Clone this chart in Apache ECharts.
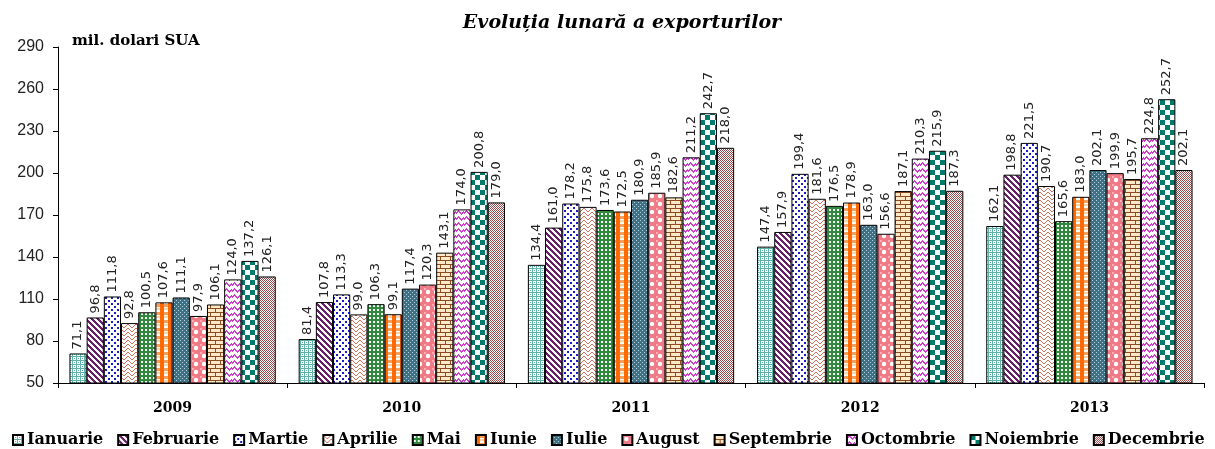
<!DOCTYPE html>
<html>
<head>
<meta charset="utf-8">
<script src="https://cdn.jsdelivr.net/npm/echarts@6/dist/echarts.min.js"></script>
<style>
html,body{margin:0;padding:0;background:#fff;}
#chart{width:1215px;height:449px;}
</style>
</head>
<body>
<div id="chart"></div>
<script>
const years = ['2009', '2010', '2011', '2012', '2013'];
const months = ['Ianuarie', 'Februarie', 'Martie', 'Aprilie', 'Mai', 'Iunie', 'Iulie', 'August', 'Septembrie', 'Octombrie', 'Noiembrie', 'Decembrie'];
const ianuarie   = [71.1, 81.4, 134.4, 147.4, 162.1];
const februarie  = [96.8, 107.8, 161.0, 157.9, 198.8];
const martie     = [111.8, 113.3, 178.2, 199.4, 221.5];
const aprilie    = [92.8, 99.0, 175.8, 181.6, 190.7];
const mai        = [100.5, 106.3, 173.6, 176.5, 165.6];
const iunie      = [107.6, 99.1, 172.5, 178.9, 183.0];
const iulie      = [111.1, 117.4, 180.9, 163.0, 202.1];
const august     = [97.9, 120.3, 185.9, 156.6, 199.9];
const septembrie = [106.1, 143.1, 182.6, 187.1, 195.7];
const octombrie  = [124.0, 174.0, 211.2, 210.3, 224.8];
const noiembrie  = [137.2, 200.8, 242.7, 215.9, 252.7];
const decembrie  = [126.1, 179.0, 218.0, 187.3, 202.1];
const seriesValues = [ianuarie, februarie, martie, aprilie, mai, iunie, iulie, august, septembrie, octombrie, noiembrie, decembrie];
const yTicks = {min: 50, max: 290, interval: 30};

function mk(w, h, draw) {
  const c = document.createElement('canvas');
  c.width = w; c.height = h;
  const g = c.getContext('2d');
  draw(g, w, h);
  return {image: c, repeat: 'repeat'};
}
const patterns = [
  // Ianuarie: light teal lattice
  mk(4, 4, (g) => { g.fillStyle = '#ffffff'; g.fillRect(0,0,4,4); g.fillStyle = '#5fb3a8'; g.fillRect(0,0,4,1); g.fillRect(0,0,1,4); g.fillRect(2,2,1,1); }),
  // Februarie: purple diagonal stripes
  mk(6, 6, (g) => { g.fillStyle = '#ffffff'; g.fillRect(0,0,6,6); g.fillStyle = '#6b1f6b';
    for (let i = 0; i < 6; i++) { g.fillRect(i, i, 1, 1); g.fillRect((i+1)%6, i, 1, 1); g.fillRect((i+2)%6, i, 1, 1); } }),
  // Martie: blue dots
  mk(6, 6, (g) => { g.fillStyle = '#ffffff'; g.fillRect(0,0,6,6); g.fillStyle = '#1a1ac8'; g.fillRect(0,0,2,2); g.fillRect(3,3,2,2); }),
  // Aprilie: salmon herringbone
  mk(8, 8, (g) => { g.fillStyle = '#ffffff'; g.fillRect(0,0,8,8); g.fillStyle = '#d2705c';
    for (let i = 0; i < 4; i++) { g.fillRect(i, i, 1, 1); g.fillRect(7-i, i, 1, 1); g.fillRect(i, i+4, 1, 1); g.fillRect(7-i, i+4, 1, 1); } }),
  // Mai: green checker
  mk(4, 4, (g) => { g.fillStyle = '#2f8a3c'; g.fillRect(0,0,4,4); g.fillStyle = '#ffffff'; g.fillRect(1,1,2,2); }),
  // Iunie: orange plaid
  mk(8, 8, (g) => { g.fillStyle = '#ffffff'; g.fillRect(0,0,8,8); g.fillStyle = '#f0a060'; g.fillRect(0,0,8,3); g.fillStyle = '#ff6a00'; g.fillRect(0,0,4,8); g.fillStyle = '#ffd2a8'; g.fillRect(4,4,4,2); }),
  // Iulie: steel blue with dots
  mk(4, 4, (g) => { g.fillStyle = '#3e7186'; g.fillRect(0,0,4,4); g.fillStyle = '#b8d0d8'; g.fillRect(0,0,1,1); g.fillRect(2,2,1,1); }),
  // August: pink circles
  mk(8, 8, (g) => { g.fillStyle = '#f07a86'; g.fillRect(0,0,8,8); g.fillStyle = '#ffffff'; g.beginPath(); g.arc(4, 4, 2.2, 0, Math.PI*2); g.fill(); g.fillStyle = '#f7b0b8'; g.fillRect(0,0,2,2); }),
  // Septembrie: brick
  mk(10, 8, (g) => { g.fillStyle = '#fde8c8'; g.fillRect(0,0,10,8); g.fillStyle = '#8a4a22';
    g.fillRect(0,0,10,1); g.fillRect(0,4,10,1); g.fillRect(0,0,1,4); g.fillRect(5,4,1,4); }),
  // Octombrie: magenta waves
  mk(8, 6, (g) => { g.fillStyle = '#ffffff'; g.fillRect(0,0,8,6); g.fillStyle = '#cc3fcc';
    const pts = [[0,2],[1,1],[2,0],[3,1],[4,2],[5,3],[6,2],[7,1]];
    pts.forEach(p => { g.fillRect(p[0], p[1], 1, 1); g.fillRect(p[0], p[1]+1, 1, 1); }); }),
  // Noiembrie: teal big checker
  mk(10, 10, (g) => { g.fillStyle = '#ffffff'; g.fillRect(0,0,10,10); g.fillStyle = '#007a6a'; g.fillRect(0,0,5,5); g.fillRect(5,5,5,5); }),
  // Decembrie: brown crosshatch
  mk(4, 4, (g) => { g.fillStyle = '#ffffff'; g.fillRect(0,0,4,4); g.fillStyle = '#9a4848'; g.fillRect(0,0,1,1); g.fillRect(2,0,1,1); g.fillRect(1,1,1,1); g.fillRect(3,1,1,1); g.fillRect(0,2,1,1); g.fillRect(2,2,1,1); g.fillRect(3,3,1,1); g.fillRect(1,3,1,1); })
];

const chart = echarts.init(document.getElementById('chart'), null, {renderer: 'canvas'});
const serifB = '"DejaVu Serif", "Liberation Serif", serif';
const sans = '"Liberation Sans", Arial, sans-serif';
const option = {
  animation: false,
  backgroundColor: '#ffffff',
  title: [{
    text: 'Evoluția lunară a exporturilor',
    left: 617, top: 9, textAlign: 'center',
    textStyle: {fontFamily: serifB, fontSize: 19, fontWeight: 'bold', fontStyle: 'italic', color: '#000'}
  }, {
    text: 'mil. dolari SUA',
    left: 67, top: 29,
    textStyle: {fontFamily: serifB, fontSize: 15, fontWeight: 'bold', color: '#000'}
  }],
  legend: {
    data: months,
    left: 7, top: 427,
    itemWidth: 10, itemHeight: 10, itemGap: 14,
    icon: 'rect',
    textStyle: {fontFamily: serifB, fontSize: 16, fontWeight: 'bold', color: '#000', padding: [0, 0, 0, -1]}
  },
  grid: {left: 58, right: 11, top: 47, bottom: 66, containLabel: false},
  xAxis: {
    type: 'category',
    data: years,
    axisLine: {lineStyle: {color: '#000', width: 1}},
    axisTick: {show: true, length: 5, lineStyle: {color: '#000'}},
    axisLabel: {fontFamily: serifB, fontSize: 14, fontWeight: 'bold', color: '#000', margin: 18}
  },
  yAxis: {
    type: 'value',
    min: yTicks.min, max: yTicks.max, interval: yTicks.interval,
    axisLine: {show: true, lineStyle: {color: '#000', width: 1}},
    axisTick: {show: true, length: 5, lineStyle: {color: '#000'}},
    splitLine: {show: false},
    axisLabel: {fontFamily: sans, fontSize: 16, color: '#222', margin: 14}
  },
  series: months.map((m, i) => ({
    name: m,
    type: 'bar',
    data: seriesValues[i],
    barGap: '0%',
    barCategoryGap: '10%',
    itemStyle: {color: patterns[i], borderColor: '#000', borderWidth: 1},
    label: {
      show: true, position: 'top', rotate: 90, align: 'left', verticalAlign: 'middle', distance: 4,
      fontFamily: '"DejaVu Sans", sans-serif', fontSize: 13, color: '#222',
      formatter: (p) => p.value.toFixed(1).replace('.', ',')
    }
  }))
};
chart.setOption(option);
</script>
</body>
</html>
